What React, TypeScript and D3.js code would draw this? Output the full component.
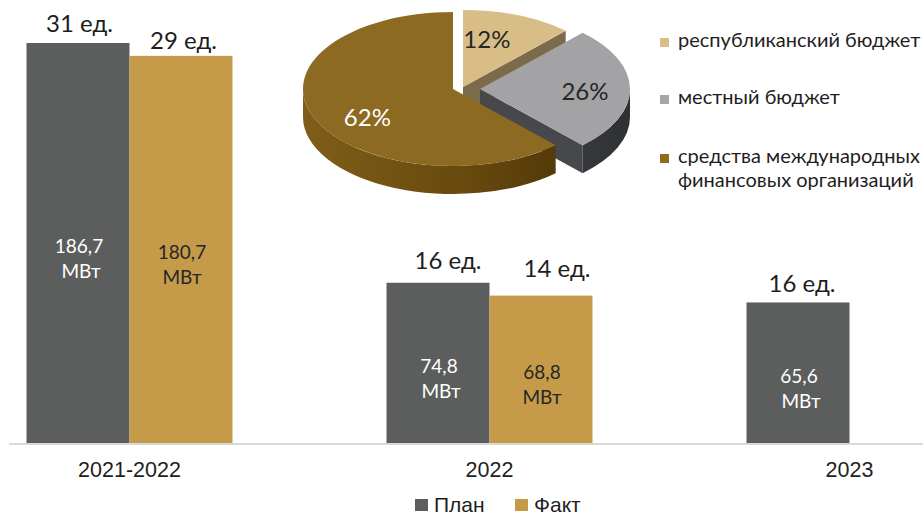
import React from "react";
import * as d3 from "d3";

// Bar chart data: installed capacity (MW) and number of units per period
const categories = ["2021-2022", "2022", "2023"];
const seriesNames = ["План", "Факт"];
const planMW = [186.7, 74.8, 65.6];
const factMW: (number | null)[] = [180.7, 68.8, null];
const planUnits = [31, 16, 16];
const factUnits: (number | null)[] = [29, 14, null];

// Pie chart data: funding sources, %
const fundSources = [
  "республиканский бюджет",
  "местный бюджет",
  "средства международных\nфинансовых организаций",
];
const fundShares = [12, 26, 62];

const W = 923;
const H = 516;
const BASE_Y = 443;
const TOP_Y = 43;
const BAR_W = 103;

const BAR_COLORS = ["#5C5E5D", "#C59B4A"];
const BAR_TEXT = ["#FFFFFF", "#262626"];

// per-bar nudges for the "ед." labels: [category][series] -> [dx, lift]
const UNIT_NUDGE: number[][][] = [
  [[1.5, 11], [2.5, 7]],
  [[10, 14], [16, 19]],
  [[4, 10], [0, 0]],
];

// 3D pie styling
const PIE = { cx: 453, cy: 89, rx: 150, ry: 77, depth: 28 };
const SLICE_OFFSET = [[10, -2], [27, 0], [0, 0]];
const SLICE_TOP = ["#D8BD86", "#A3A3A5", "#8C6A22"];
const SLICE_WALL = ["#7C6B4B", "#46484C", "#5E4410"];
const SLICE_RIM = ["url(#rimTan)", "url(#rimGray)", "url(#rimBrown)"];
const SLICE_LABEL = ["#262626", "#262626", "#FFFFFF"];
const LABEL_NUDGE = [[-12, 0], [7.5, 3], [5, 11]];
const LEGEND_SWATCH = ["#D8BD86", "#A6A6A6", "#8F6B20"];

const CAL = "Lato, 'Open Sans', sans-serif";
const ARIAL = "'Liberation Sans', Arial, sans-serif";

const fmt = (v: number) => String(v).replace(".", ",");

export default function App() {
  const x0 = d3.scalePoint<string>().domain(categories).range([129.5, 849.5]);
  const x1 = d3.scaleBand<string>().domain(seriesNames).range([-BAR_W, BAR_W]);
  const y = d3.scaleLinear().domain([0, planMW[0]]).range([BASE_Y, TOP_Y]);

  const bars: {
    cat: number;
    s: number;
    mw: number;
    units: number;
    x: number;
  }[] = [];
  categories.forEach((c, i) => {
    const vals = [planMW[i], factMW[i]];
    const units = [planUnits[i], factUnits[i]];
    seriesNames.forEach((s, j) => {
      const v = vals[j];
      if (v == null) return;
      bars.push({ cat: i, s: j, mw: v, units: units[j] as number, x: (x0(c) as number) + (x1(s) as number) });
    });
  });

  // 3D pie geometry
  const { rx, ry, depth } = PIE;
  const pt = (a: number, r = 1): [number, number] => [rx * r * Math.sin(a), -ry * r * Math.cos(a)];
  const P = (p: [number, number], dy = 0) => `${p[0].toFixed(2)},${(p[1] + dy).toFixed(2)}`;
  const topPath = (a0: number, a1: number) =>
    `M0,0 L${P(pt(a0))} A${rx},${ry} 0 ${a1 - a0 > Math.PI ? 1 : 0} 1 ${P(pt(a1))} Z`;
  const rimPath = (a0: number, a1: number) => {
    const s = Math.max(a0, Math.PI / 2);
    const e = Math.min(a1, (3 * Math.PI) / 2);
    if (s >= e) return null;
    const large = e - s > Math.PI ? 1 : 0;
    return `M${P(pt(s))} A${rx},${ry} 0 ${large} 1 ${P(pt(e))} L${P(pt(e), depth)} A${rx},${ry} 0 ${large} 0 ${P(pt(s), depth)} Z`;
  };
  const wallPath = (a: number) => `M0,0 L${P(pt(a))} L${P(pt(a), depth)} L0,${depth} Z`;

  const arcs = d3.pie<number>().sort(null).value((d) => d)(fundShares);

  return (
    <svg
      width={W}
      height={H}
      viewBox={`0 0 ${W} ${H}`}
      style={{ position: "absolute", left: 0, top: 0, background: "#fff" }}
    >
      <defs>
        <linearGradient id="rimBrown" x1={-rx} x2={rx} y1={0} y2={0} gradientUnits="userSpaceOnUse">
          <stop offset="0" stopColor="#7E5E18" />
          <stop offset="0.5" stopColor="#6A4B0F" />
          <stop offset="1" stopColor="#4A3306" />
        </linearGradient>
        <linearGradient id="rimGray" x1={0} x2={rx} y1={0} y2={0} gradientUnits="userSpaceOnUse">
          <stop offset="0" stopColor="#484A4E" />
          <stop offset="1" stopColor="#2E3034" />
        </linearGradient>
        <linearGradient id="rimTan" x1={-rx} x2={rx} y1={0} y2={0} gradientUnits="userSpaceOnUse">
          <stop offset="0" stopColor="#A08A5E" />
          <stop offset="1" stopColor="#7C6B4B" />
        </linearGradient>
      </defs>

      {/* bars */}
      {bars.map((b, k) => {
        const top = y(b.mw);
        const mid = (top + BASE_Y) / 2;
        const cx = b.x + BAR_W / 2;
        const [ndx, lift] = UNIT_NUDGE[b.cat][b.s];
        return (
          <g key={k}>
            <rect x={b.x} y={top} width={BAR_W} height={BASE_Y - top} fill={BAR_COLORS[b.s]} />
            <text
              x={cx + ndx}
              y={top - lift}
              textAnchor="middle"
              fontFamily={CAL}
              fontSize={24}
              fill="#1E1E1E"
            >
              {`${b.units} ед.`}
            </text>
            <text x={cx + 1} y={mid + 10} textAnchor="middle" fontFamily={CAL} fontSize={19} fill={BAR_TEXT[b.s]}>
              {fmt(b.mw)}
            </text>
            <text
              x={cx + (b.s === 0 ? 3 : 1)}
              y={mid + 35}
              textAnchor="middle"
              fontFamily={CAL}
              fontSize={19}
              fill={BAR_TEXT[b.s]}
            >
              МВт
            </text>
          </g>
        );
      })}

      {/* category axis */}
      <line x1={9} x2={W} y1={BASE_Y + 1} y2={BASE_Y + 1} stroke="#D9D9D9" strokeWidth={2} />
      {categories.map((c) => (
        <text key={c} x={x0(c)} y={477} textAnchor="middle" fontFamily={ARIAL} fontSize={21.5} fill="#1E1E1E">
          {c}
        </text>
      ))}

      {/* bar legend */}
      {seriesNames.map((s, j) => {
        const lx = [415, 515][j];
        return (
          <g key={s}>
            <rect x={lx} y={499} width={13} height={12} fill={BAR_COLORS[j]} />
            <text x={lx + 19} y={511.5} fontFamily={ARIAL} fontSize={21} fill="#1E1E1E">
              {s}
            </text>
          </g>
        );
      })}

      {/* 3D pie */}
      <g transform={`translate(${PIE.cx},${PIE.cy})`}>
        {arcs.map((a, i) => {
          const [ox, oy] = SLICE_OFFSET[i];
          const rim = rimPath(a.startAngle, a.endAngle);
          return (
            <g key={i} transform={`translate(${ox},${oy})`}>
              {Math.sin(a.endAngle) > 1e-6 && <path d={wallPath(a.endAngle)} fill={SLICE_WALL[i]} />}
              {Math.sin(a.startAngle) < -1e-6 && <path d={wallPath(a.startAngle)} fill={SLICE_WALL[i]} />}
              {rim && <path d={rim} fill={SLICE_RIM[i]} />}
              <path d={topPath(a.startAngle, a.endAngle)} fill={SLICE_TOP[i]} />
            </g>
          );
        })}
        {arcs.map((a, i) => {
          const [ox, oy] = SLICE_OFFSET[i];
          const m = (a.startAngle + a.endAngle) / 2;
          const p = pt(m, 0.65);
          return (
            <text
              key={`l${i}`}
              x={p[0] + ox + LABEL_NUDGE[i][0]}
              y={p[1] + oy + LABEL_NUDGE[i][1] + 8}
              textAnchor="middle"
              fontFamily={CAL}
              fontSize={24}
              fill={SLICE_LABEL[i]}
            >
              {`${a.data}%`}
            </text>
          );
        })}
      </g>

      {/* pie legend */}
      {fundSources.map((src, i) => {
        const rowY = [47, 104, 163][i];
        const lines = src.split("\n");
        return (
          <g key={src}>
            <rect x={660} y={rowY - 9} width={9} height={9} fill={LEGEND_SWATCH[i]} />
            {lines.map((ln, k) => (
              <text key={k} x={678} y={rowY + k * 24} fontFamily={CAL} fontSize={20} fill="#1E1E1E">
                {ln}
              </text>
            ))}
          </g>
        );
      })}
    </svg>
  );
}
